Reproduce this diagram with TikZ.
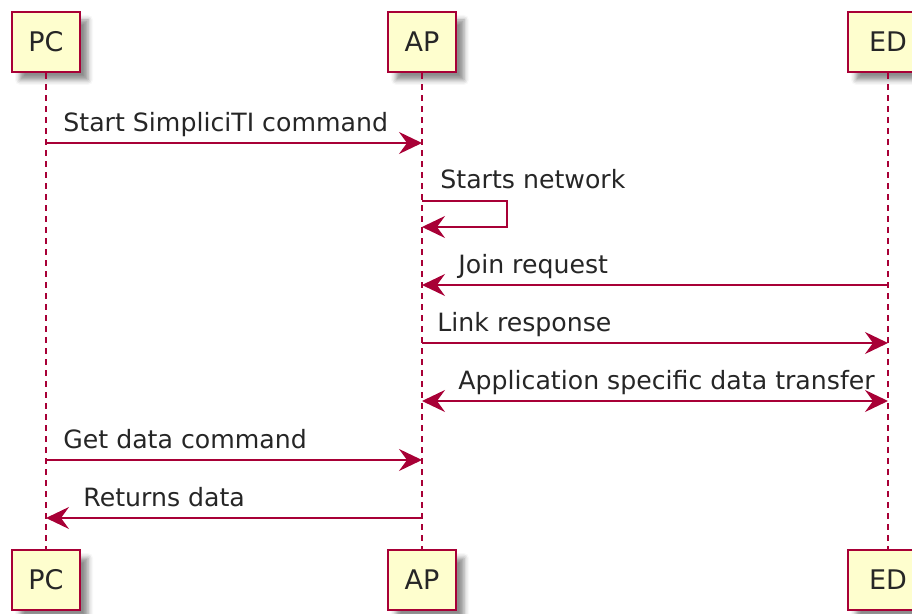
\documentclass[tikz,border=0pt]{standalone}
\usepackage{fontspec}
\setmainfont{DejaVu Sans}
\usetikzlibrary{positioning,arrows.meta,shadows.blur}
\definecolor{umlRed}{HTML}{A80036}
\definecolor{umlFill}{HTML}{FEFECE}
\tikzset{
	umltip/.tip={Stealth[length=11.5pt,width=11pt,inset=4pt]},
	participant/.style={rectangle, draw=umlRed, fill=umlFill, line width=1.3pt, minimum width=34pt, minimum height=30pt, inner sep=0pt, text=black!85, font=\fontsize{13.5pt}{15pt}\selectfont, blur shadow={shadow xshift=4pt, shadow yshift=-4pt, shadow blur radius=2.5pt, shadow opacity=45}},
	lifeline/.style={draw=umlRed, line width=0.7pt, dash pattern=on 3pt off 2.5pt},
	msg/.style={draw=umlRed, line width=0.85pt, -umltip},
	msgboth/.style={draw=umlRed, line width=0.85pt, umltip-umltip},
	msgtext/.style={anchor=base west, inner sep=0pt, text=black!85, font=\fontsize{12.6pt}{15pt}\selectfont},
}
\begin{document}
\begin{tikzpicture}[x=0.5pt,y=-0.5pt]
	\useasboundingbox (0,0) rectangle (912,614);
	% participants
	\node (pcTop) [participant] at (46,42)  {PC};
	\node (apTop) [participant] at (422,42) {AP};
	\node (edTop) [participant,minimum width=40pt] at (888,42) {ED};
	\node (pcBot) [participant] at (46,580)  {PC};
	\node (apBot) [participant] at (422,580) {AP};
	\node (edBot) [participant,minimum width=40pt] at (888,580) {ED};
	\draw [lifeline] (pcTop.south) -- (pcBot.north);
	\draw [lifeline] (apTop.south) -- (apBot.north);
	\draw [lifeline] (edTop.south) -- (edBot.north);
	% message rows
	\coordinate (r1)  at (0,143);
	\coordinate (r2a) at (0,201);
	\coordinate (r2b) at (0,227);
	\coordinate (r3)  at (0,285);
	\coordinate (r4)  at (0,343);
	\coordinate (r5)  at (0,401);
	\coordinate (r6)  at (0,460);
	\coordinate (r7)  at (0,518);
	% messages
	\draw [msg] (pcTop |- r1) -- (apTop |- r1);
	\node (t1) [msgtext] at ([shift={(17,-11)}]pcTop |- r1) {Start SimpliciTI command};
	\draw [msg] (apTop |- r2a) -- ++(85,0) |- (apTop |- r2b);
	\node (t2) [msgtext] at ([shift={(18,-12)}]apTop |- r2a) {Starts network};
	\draw [msg] (edTop |- r3) -- (apTop |- r3);
	\node (t3) [msgtext] at ([shift={(36,-11)}]apTop |- r3) {Join request};
	\draw [msg] (apTop |- r4) -- (edTop |- r4);
	\node (t4) [msgtext] at ([shift={(15,-11)}]apTop |- r4) {Link response};
	\draw [msgboth] (apTop |- r5) -- (edTop |- r5);
	\node (t5) [msgtext] at ([shift={(36,-11)}]apTop |- r5) {Application specific data transfer};
	\draw [msg] (pcTop |- r6) -- (apTop |- r6);
	\node (t6) [msgtext] at ([shift={(17,-11)}]pcTop |- r6) {Get data command};
	\draw [msg] (apTop |- r7) -- (pcTop |- r7);
	\node (t7) [msgtext] at ([shift={(37,-11)}]pcTop |- r7) {Returns data};
\end{tikzpicture}
\end{document}
